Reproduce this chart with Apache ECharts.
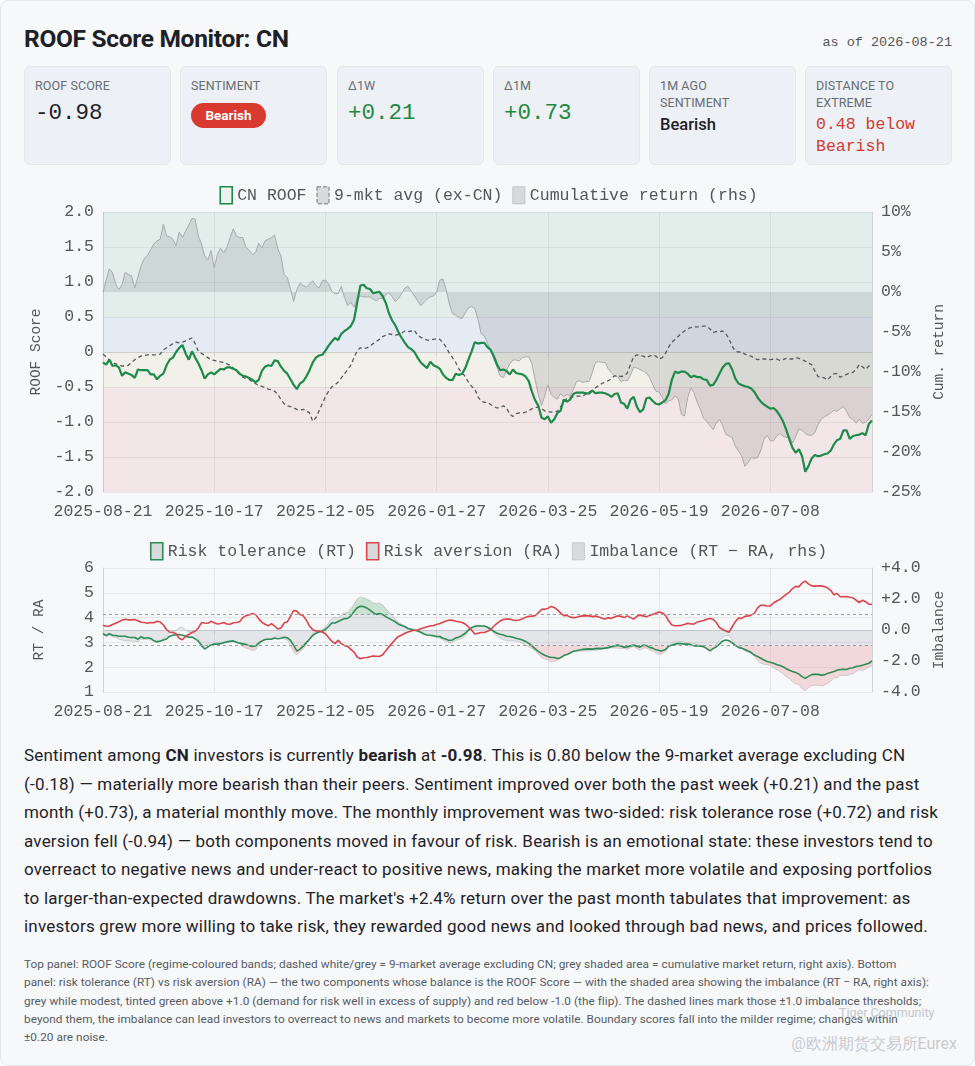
<!DOCTYPE html>
<html><head><meta charset="utf-8">
<script src="https://cdn.jsdelivr.net/npm/echarts@6/dist/echarts.min.js"></script>
<style>
html,body{margin:0;padding:0;background:#fff;}
#page{position:relative;width:973px;height:1064px;background:#f7f8fa;border:1px solid #e3e6ea;border-radius:8px;overflow:hidden;font-family:Roboto,"Noto Sans",sans-serif;color:#1f2328;}
.title{position:absolute;left:23px;top:23px;font-size:24.5px;font-weight:700;letter-spacing:-0.3px;color:#1d2126;line-height:30px;}
.asof{position:absolute;right:22px;top:34px;font-family:"Liberation Mono",monospace;font-size:13.5px;color:#555;}
.card{position:absolute;top:65px;width:147px;height:99px;background:#edf0f4;border-radius:6px;border:1px solid #e4e7eb;box-sizing:border-box;}
.lab{position:absolute;left:10px;top:10px;font-size:12.5px;color:#666d75;line-height:17px;letter-spacing:0.1px;}
.val{position:absolute;left:10px;top:33px;font-family:"Liberation Mono",monospace;font-size:22.5px;line-height:26px;color:#1d2126;}
.green{color:#1b8a3f;}
.badge{position:absolute;left:10px;top:36px;width:75px;height:25px;border-radius:13px;background:#d93a2f;color:#fff;font-weight:700;font-size:13.5px;line-height:25px;text-align:center;}
.sval{position:absolute;left:10px;top:47px;font-size:16.5px;line-height:22px;color:#1d2126;font-weight:500;}
.rval{position:absolute;left:10px;top:47px;font-family:"Liberation Mono",monospace;font-size:16.5px;line-height:22px;color:#d23a32;}
#chart{position:absolute;left:0;top:180px;width:975px;height:545px;}
.para{position:absolute;left:23px;top:740px;font-size:17px;line-height:28.5px;letter-spacing:0.2px;color:#1f2328;white-space:nowrap;}
.foot{position:absolute;left:23px;top:954px;font-size:11.8px;line-height:18.35px;letter-spacing:0.04px;color:#555b62;white-space:nowrap;}
.wm1{position:absolute;left:838px;top:1004px;font-size:12.5px;color:#c4c7cb;}
.wm2{position:absolute;right:17px;top:1033px;font-size:16px;color:#c9cbce;}
</style></head>
<body>
<div id="page">
  <div class="title">ROOF Score Monitor: CN</div>
  <div class="asof">as of 2026-08-21</div>

  <div class="card" style="left:23px"><div class="lab">ROOF SCORE</div><div class="val">-0.98</div></div>
  <div class="card" style="left:179px"><div class="lab">SENTIMENT</div><div class="badge">Bearish</div></div>
  <div class="card" style="left:336px"><div class="lab">Δ1W</div><div class="val green">+0.21</div></div>
  <div class="card" style="left:492px"><div class="lab">Δ1M</div><div class="val green">+0.73</div></div>
  <div class="card" style="left:648px"><div class="lab">1M AGO<br>SENTIMENT</div><div class="sval">Bearish</div></div>
  <div class="card" style="left:804px"><div class="lab">DISTANCE TO<br>EXTREME</div><div class="rval">0.48 below<br>Bearish</div></div>

  <div id="chart"></div>

  <div class="para">Sentiment among <b>CN</b> investors is currently <b>bearish</b> at <b>-0.98</b>. This is 0.80 below the 9-market average excluding CN<br>(-0.18) — materially more bearish than their peers. Sentiment improved over both the past week (+0.21) and the past<br>month (+0.73), a material monthly move. The monthly improvement was two-sided: risk tolerance rose (+0.72) and risk<br>aversion fell (-0.94) — both components moved in favour of risk. Bearish is an emotional state: these investors tend to<br>overreact to negative news and under-react to positive news, making the market more volatile and exposing portfolios<br>to larger-than-expected drawdowns. The market's +2.4% return over the past month tabulates that improvement: as<br>investors grew more willing to take risk, they rewarded good news and looked through bad news, and prices followed.</div>

  <div class="foot">Top panel: ROOF Score (regime-coloured bands; dashed white/grey = 9-market average excluding CN; grey shaded area = cumulative market return, right axis). Bottom<br>panel: risk tolerance (RT) vs risk aversion (RA) — the two components whose balance is the ROOF Score — with the shaded area showing the imbalance (RT − RA, right axis):<br>grey while modest, tinted green above +1.0 (demand for risk well in excess of supply) and red below -1.0 (the flip). The dashed lines mark those ±1.0 imbalance thresholds;<br>beyond them, the imbalance can lead investors to overreact to news and markets to become more volatile. Boundary scores fall into the milder regime; changes within<br>±0.20 are noise.</div>
  <div class="wm1">Tiger Community</div>
  <div class="wm2">@欧洲期货交易所Eurex</div>
</div>
<script>
// ---------- data ----------
const START_DATE = '2025-08-21';
const END_DATE = '2026-08-21';
const HOLIDAYS = ['2025-10-01','2025-10-02','2025-10-03','2025-10-06','2025-10-07','2025-10-08',
  '2026-01-01','2026-01-02','2026-02-16','2026-02-17','2026-02-18','2026-02-19','2026-02-20','2026-02-23',
  '2026-04-06','2026-05-01','2026-05-04','2026-05-05','2026-06-19'];
const TICK_DATES = ['2025-08-21','2025-10-17','2025-12-05','2026-01-27','2026-03-25','2026-05-19','2026-07-08'];

const ROOF = [
-0.15,-0.18,-0.11,-0.20,-0.19,-0.22,-0.34,-0.29,-0.31,-0.33,
-0.37,-0.25,-0.26,-0.26,-0.26,-0.32,-0.32,-0.39,-0.34,-0.31,
-0.19,-0.11,-0.08,0.00,0.06,0.10,-0.02,-0.11,0.01,-0.08,
-0.16,-0.26,-0.38,-0.32,-0.29,-0.32,-0.28,-0.24,-0.25,-0.22,
-0.22,-0.24,-0.26,-0.31,-0.34,-0.35,-0.37,-0.40,-0.43,-0.40,
-0.27,-0.21,-0.19,-0.20,-0.12,-0.13,-0.21,-0.27,-0.31,-0.39,
-0.47,-0.53,-0.45,-0.42,-0.35,-0.26,-0.15,-0.08,-0.05,-0.04,
0.02,0.09,0.15,0.20,0.17,0.26,0.30,0.33,0.37,0.46,
0.71,0.95,0.96,0.91,0.90,0.84,0.85,0.86,0.80,0.70,
0.55,0.45,0.38,0.28,0.20,0.13,0.07,0.04,0.00,-0.08,
-0.15,-0.19,-0.23,-0.14,-0.19,-0.21,-0.24,-0.32,-0.37,-0.40,
-0.40,-0.31,-0.33,-0.31,-0.23,-0.11,0.01,0.14,0.12,0.13,
0.13,0.07,0.03,-0.06,-0.18,-0.26,-0.25,-0.27,-0.32,-0.25,
-0.30,-0.31,-0.32,-0.35,-0.42,-0.57,-0.69,-0.77,-0.94,-0.96,
-0.92,-1.01,-0.96,-0.87,-0.84,-0.68,-0.71,-0.68,-0.60,-0.58,
-0.58,-0.58,-0.59,-0.59,-0.55,-0.59,-0.58,-0.58,-0.59,-0.61,
-0.64,-0.60,-0.59,-0.72,-0.74,-0.81,-0.68,-0.64,-0.78,-0.86,
-0.82,-0.66,-0.65,-0.70,-0.74,-0.75,-0.72,-0.69,-0.60,-0.40,
-0.28,-0.30,-0.28,-0.28,-0.31,-0.36,-0.34,-0.36,-0.36,-0.39,
-0.40,-0.48,-0.47,-0.40,-0.31,-0.22,-0.17,-0.16,-0.25,-0.38,
-0.45,-0.47,-0.49,-0.50,-0.52,-0.57,-0.65,-0.71,-0.75,-0.78,
-0.81,-0.80,-0.84,-0.91,-0.99,-1.11,-1.25,-1.37,-1.44,-1.39,
-1.49,-1.71,-1.63,-1.52,-1.47,-1.49,-1.48,-1.46,-1.45,-1.41,
-1.32,-1.26,-1.24,-1.12,-1.12,-1.24,-1.20,-1.19,-1.18,-1.16,
-1.19,-1.03,-0.98];

const AVG9 = [
-0.03,-0.07,-0.11,-0.15,-0.17,-0.19,-0.20,-0.20,-0.19,-0.15,
-0.11,-0.08,-0.06,-0.05,-0.04,-0.04,-0.04,-0.04,-0.03,0.03,
0.06,0.09,0.12,0.14,0.13,0.14,0.16,0.18,0.20,0.12,
0.01,-0.02,-0.05,-0.08,-0.11,-0.12,-0.13,-0.14,-0.15,-0.17,
-0.19,-0.23,-0.27,-0.32,-0.36,-0.38,-0.39,-0.43,-0.45,-0.48,
-0.49,-0.51,-0.53,-0.54,-0.56,-0.60,-0.68,-0.74,-0.77,-0.78,
-0.80,-0.82,-0.83,-0.82,-0.84,-0.87,-0.99,-0.94,-0.84,-0.74,
-0.64,-0.56,-0.50,-0.47,-0.43,-0.37,-0.31,-0.25,-0.19,-0.08,
0.02,0.06,0.05,0.06,0.08,0.12,0.15,0.18,0.22,0.24,
0.26,0.25,0.24,0.25,0.27,0.30,0.29,0.30,0.31,0.24,
0.21,0.19,0.17,0.17,0.18,0.19,0.18,0.13,0.07,-0.02,
-0.08,-0.15,-0.24,-0.30,-0.35,-0.43,-0.49,-0.53,-0.64,-0.70,
-0.72,-0.72,-0.75,-0.78,-0.80,-0.79,-0.77,-0.80,-0.89,-0.92,
-0.88,-0.87,-0.87,-0.86,-0.84,-0.81,-0.79,-0.79,-0.81,-0.84,
-0.85,-0.86,-0.85,-0.85,-0.78,-0.72,-0.66,-0.65,-0.64,-0.63,
-0.63,-0.63,-0.60,-0.57,-0.55,-0.51,-0.48,-0.45,-0.43,-0.41,
-0.38,-0.34,-0.34,-0.35,-0.34,-0.30,-0.18,-0.07,-0.04,-0.05,
-0.06,-0.08,-0.06,-0.04,-0.06,-0.10,-0.08,-0.02,0.07,0.14,
0.18,0.22,0.27,0.30,0.33,0.35,0.36,0.36,0.36,0.37,
0.37,0.33,0.28,0.29,0.29,0.30,0.26,0.19,0.08,0.01,
0.00,0.00,-0.03,-0.05,-0.06,-0.09,-0.11,-0.10,-0.10,-0.10,
-0.11,-0.10,-0.10,-0.12,-0.11,-0.09,-0.10,-0.10,-0.08,-0.09,
-0.11,-0.13,-0.16,-0.18,-0.27,-0.35,-0.36,-0.37,-0.40,-0.35,
-0.31,-0.31,-0.36,-0.34,-0.32,-0.30,-0.29,-0.25,-0.18,-0.21,
-0.25,-0.20,-0.18];

const CUM_RETURN = [
0.0,1.5,2.9,2.4,1.0,0.3,0.9,2.5,2.2,2.0,
0.5,1.9,3.3,4.2,4.6,5.3,6.0,6.4,6.6,8.5,
7.0,6.9,6.6,5.8,7.5,6.8,7.6,8.4,9.2,9.1,
7.0,6.0,4.5,4.0,5.2,3.0,4.7,5.5,4.9,5.6,
6.8,7.9,7.0,6.8,6.8,5.6,5.2,4.7,4.9,6.1,
5.5,6.4,6.6,6.8,7.1,5.4,4.5,2.2,1.8,0.4,
-1.2,0.3,1.1,0.8,0.6,1.0,1.4,0.8,0.5,1.4,
1.5,1.0,0.1,-0.2,-0.2,0.7,-0.7,-1.7,-1.3,-1.9,
-0.9,-0.5,-0.6,-0.6,-0.6,-0.9,-1.1,-0.8,-0.8,-0.3,
-0.1,-0.6,-1.2,-0.8,-0.2,0.5,0.7,0.1,-0.5,-1.1,
-1.7,-1.3,-0.9,-0.6,-0.5,0.0,1.5,1.6,0.3,-1.5,
-2.7,-2.9,-3.2,-3.3,-2.6,-2.0,-1.8,-2.1,-3.4,-5.2,
-5.5,-6.4,-7.3,-8.4,-9.4,-10.5,-10.7,-9.8,-9.0,-8.5,
-8.5,-8.6,-8.2,-8.1,-8.1,-9.0,-11.0,-12.8,-14.2,-13.0,
-11.6,-12.8,-13.2,-13.4,-12.7,-13.1,-12.8,-13.0,-12.2,-11.2,
-11.1,-11.3,-11.2,-11.2,-10.0,-8.8,-8.7,-8.8,-8.8,-9.6,
-10.1,-10.5,-10.6,-11.2,-11.0,-11.1,-10.4,-9.4,-9.5,-9.7,
-9.9,-10.1,-10.7,-11.6,-12.4,-12.5,-13.2,-14.0,-13.6,-13.5,
-13.0,-13.3,-15.3,-15.5,-13.2,-12.0,-12.6,-13.8,-14.7,-15.8,
-16.2,-16.7,-17.2,-16.4,-15.9,-16.7,-17.8,-18.0,-18.2,-19.3,
-19.9,-20.5,-21.8,-21.3,-20.7,-20.8,-20.7,-19.8,-18.4,-17.9,
-18.6,-18.6,-18.0,-17.7,-18.0,-18.2,-18.0,-18.9,-18.1,-17.1,
-17.3,-17.7,-17.9,-17.9,-17.6,-16.6,-15.9,-15.6,-15.4,-15.1,
-14.8,-14.9,-14.6,-14.3,-14.9,-15.7,-15.9,-16.4,-15.9,-16.4,
-16.3,-15.9,-15.3];

const RISK_TOL = [
3.36,3.27,3.35,3.29,3.28,3.25,3.25,3.25,3.21,3.20,
3.20,3.13,3.23,3.17,3.19,3.16,3.07,3.03,3.06,3.10,
3.14,3.25,3.29,3.31,3.32,3.29,3.25,3.21,3.22,3.15,
3.05,2.88,2.73,2.82,2.89,2.93,2.93,2.95,2.99,3.02,
3.04,3.06,3.01,2.97,2.94,2.92,2.87,2.84,2.86,2.97,
3.06,3.12,3.13,3.13,3.18,3.15,3.17,3.21,3.19,3.08,
2.88,2.65,2.73,2.85,2.99,3.13,3.28,3.37,3.42,3.45,
3.52,3.64,3.78,3.78,3.84,3.90,3.96,3.97,4.07,4.25,
4.40,4.46,4.45,4.39,4.30,4.20,4.13,4.16,4.12,4.04,
3.97,3.90,3.83,3.73,3.68,3.63,3.56,3.53,3.49,3.46,
3.41,3.34,3.30,3.29,3.27,3.24,3.24,3.17,3.13,3.08,
3.10,3.18,3.22,3.28,3.37,3.50,3.60,3.64,3.67,3.66,
3.66,3.61,3.54,3.44,3.37,3.33,3.30,3.25,3.24,3.21,
3.17,3.14,3.10,3.04,2.96,2.86,2.74,2.64,2.55,2.48,
2.43,2.39,2.39,2.35,2.38,2.47,2.51,2.57,2.64,2.66,
2.69,2.72,2.73,2.74,2.73,2.75,2.76,2.75,2.77,2.79,
2.83,2.86,2.89,2.85,2.81,2.82,2.86,2.89,2.85,2.81,
2.89,2.87,2.80,2.77,2.70,2.67,2.66,2.71,2.84,2.89,
2.93,2.96,2.95,2.93,2.93,2.91,2.86,2.87,2.85,2.83,
2.75,2.66,2.75,2.82,2.93,3.06,3.10,3.07,2.98,2.88,
2.80,2.77,2.71,2.65,2.59,2.49,2.43,2.36,2.29,2.23,
2.20,2.16,2.11,2.07,2.02,1.94,1.88,1.83,1.79,1.72,
1.62,1.55,1.63,1.70,1.71,1.71,1.68,1.69,1.75,1.79,
1.83,1.88,1.91,1.92,1.91,1.96,1.98,2.03,2.05,2.08,
2.12,2.16,2.25];

const RISK_AVER = [
3.69,3.65,3.66,3.72,3.77,3.83,3.90,3.93,3.91,3.91,
3.92,3.87,3.81,3.80,3.77,3.80,3.79,3.85,3.82,3.70,
3.52,3.41,3.40,3.35,3.17,3.11,3.25,3.32,3.40,3.45,
3.58,3.80,3.78,3.77,3.85,3.79,3.74,3.76,3.80,3.74,
3.73,3.79,3.80,3.83,4.00,4.08,4.11,4.17,4.12,3.95,
3.81,3.73,3.67,3.76,3.66,3.54,3.58,3.78,3.83,4.05,
4.29,4.26,4.12,4.07,3.90,3.66,3.51,3.46,3.46,3.42,
3.35,3.20,3.05,2.95,3.08,2.95,2.87,2.84,2.72,2.61,
2.41,2.34,2.38,2.39,2.42,2.45,2.44,2.43,2.50,2.66,
2.82,2.97,3.12,3.24,3.30,3.37,3.42,3.46,3.49,3.50,
3.55,3.59,3.63,3.66,3.68,3.72,3.76,3.81,3.86,3.90,
3.89,3.85,3.83,3.80,3.74,3.62,3.50,3.34,3.37,3.40,
3.40,3.45,3.52,3.65,3.77,3.86,3.92,3.94,3.94,3.90,
3.88,3.90,3.95,4.01,4.05,4.06,4.08,4.19,4.33,4.34,
4.37,4.45,4.41,4.31,4.19,4.08,4.09,4.02,4.00,4.01,
4.05,4.07,4.08,4.07,4.04,4.06,4.03,3.97,3.94,3.99,
3.97,4.02,4.07,4.05,4.00,4.07,4.00,3.94,4.05,4.10,
4.07,4.03,4.09,4.13,4.18,4.23,4.19,4.09,3.87,3.70,
3.67,3.67,3.69,3.72,3.77,3.74,3.74,3.82,3.85,3.88,
3.93,3.96,3.93,3.80,3.60,3.52,3.46,3.41,3.63,3.84,
3.98,3.97,4.05,4.07,4.10,4.17,4.39,4.50,4.50,4.47,
4.47,4.59,4.67,4.73,4.84,4.94,5.03,5.17,5.26,5.24,
5.40,5.47,5.36,5.28,5.27,5.28,5.28,5.25,5.20,5.10,
4.92,4.97,4.84,4.84,4.85,4.82,4.80,4.70,4.61,4.70,
4.64,4.54,4.54];

const BANDS = [
  {from: 2.0, to: 0.5, color: 'rgba(60,150,95,0.10)'},
  {from: 0.5, to: 0.0, color: 'rgba(60,110,190,0.09)'},
  {from: 0.0, to: -0.5, color: 'rgba(200,180,90,0.10)'},
  {from: -0.5, to: -2.0, color: 'rgba(215,80,80,0.10)'}
];
const IMB_THRESHOLD = 1.0;

// ---------- calendar (trading days) ----------
function tradingDays(s, e, hol) {
  const out = [];
  const d = new Date(s + 'T00:00:00Z');
  const end = new Date(e + 'T00:00:00Z');
  while (d <= end) {
    const wd = d.getUTCDay();
    const iso = d.toISOString().slice(0, 10);
    if (wd !== 0 && wd !== 6 && hol.indexOf(iso) < 0) out.push(iso);
    d.setUTCDate(d.getUTCDate() + 1);
  }
  return out;
}
const DATES = tradingDays(START_DATE, END_DATE, HOLIDAYS);
const IMB = RISK_TOL.map((v, i) => +(v - RISK_AVER[i]).toFixed(2));
const IMB_GREY = IMB.map(v => Math.max(-IMB_THRESHOLD, Math.min(IMB_THRESHOLD, v)));
const IMB_POS = IMB.map(v => Math.max(IMB_THRESHOLD, v));
const IMB_NEG = IMB.map(v => Math.min(-IMB_THRESHOLD, v));

// ---------- chart ----------
const MONO = '"Liberation Mono", "DejaVu Sans Mono", monospace';
const AX = '#cfd3d8';
const GRIDC = 'rgba(0,0,0,0.065)';
const showTick = (i, v) => TICK_DATES.indexOf(v) >= 0;
const lab = {color: '#555', fontFamily: MONO, fontSize: 16.5};

function xAx(g) {
  return {type: 'category', gridIndex: g, data: DATES, boundaryGap: false,
    axisLine: {lineStyle: {color: AX}},
    axisTick: {show: true, interval: showTick, length: 4, lineStyle: {color: AX}},
    axisLabel: Object.assign({interval: showTick, margin: 11}, lab),
    splitLine: {show: true, interval: showTick, lineStyle: {color: GRIDC}}};
}
function yName(n, gap) {
  return {name: n, nameLocation: 'middle', nameGap: gap,
    nameTextStyle: {fontFamily: MONO, fontSize: 14.5, color: '#555'}};
}

const chart = echarts.init(document.getElementById('chart'));
chart.setOption({
  animation: false,
  textStyle: {fontFamily: MONO},
  grid: [
    {left: 102, right: 104, top: 31, height: 280, outerBoundsMode: 'none'},
    {left: 102, right: 104, top: 387, height: 124, outerBoundsMode: 'none'}
  ],
  legend: [
    {top: 0, left: 'center', itemWidth: 12, itemHeight: 17, itemGap: 10,
      textStyle: {fontFamily: MONO, fontSize: 16.5, color: '#555'},
      data: [
        {name: 'CN ROOF', icon: 'rect', itemStyle: {color: '#eef1ee', borderColor: '#1e8a4a', borderWidth: 1.6}},
        {name: '9-mkt avg (ex-CN)', icon: 'rect', itemStyle: {color: '#d9dadc', borderColor: '#777', borderWidth: 1, borderType: 'dashed'}},
        {name: 'Cumulative return (rhs)', icon: 'rect', itemStyle: {color: '#d6d8db', borderColor: '#c2c5c8', borderWidth: 1}}
      ]},
    {top: 356, left: 'center', itemWidth: 12, itemHeight: 17, itemGap: 10,
      textStyle: {fontFamily: MONO, fontSize: 16.5, color: '#555'},
      data: [
        {name: 'Risk tolerance (RT)', icon: 'rect', itemStyle: {color: '#d9dadc', borderColor: '#2e8b57', borderWidth: 1.6}},
        {name: 'Risk aversion (RA)', icon: 'rect', itemStyle: {color: '#d9dadc', borderColor: '#d9454a', borderWidth: 1.6}},
        {name: 'Imbalance (RT − RA, rhs)', icon: 'rect', itemStyle: {color: '#d9dadc', borderColor: '#c8cacd', borderWidth: 1}}
      ]}
  ],
  xAxis: [xAx(0), xAx(1)],
  yAxis: [
    Object.assign({type: 'value', gridIndex: 0, position: 'left', min: -2, max: 2, interval: 0.5,
      axisLine: {show: true, lineStyle: {color: AX}}, axisTick: {show: false},
      axisLabel: Object.assign({margin: 9, formatter: v => v === 0 ? '0' : v.toFixed(1)}, lab),
      splitLine: {lineStyle: {color: GRIDC}}}, yName('ROOF Score', 56)),
    Object.assign({type: 'value', gridIndex: 0, position: 'right', min: -25, max: 10, interval: 5,
      axisLine: {show: true, lineStyle: {color: AX}}, axisTick: {show: false},
      axisLabel: Object.assign({margin: 9, formatter: v => v + '%'}, lab),
      splitLine: {show: false}}, yName('Cum. return', 58)),
    Object.assign({type: 'value', gridIndex: 1, position: 'left', min: 1, max: 6, interval: 1,
      axisLine: {show: true, lineStyle: {color: AX}}, axisTick: {show: false},
      axisLabel: Object.assign({margin: 9}, lab),
      splitLine: {lineStyle: {color: GRIDC}}}, yName('RT / RA', 56)),
    Object.assign({type: 'value', gridIndex: 1, position: 'right', min: -4, max: 4, interval: 2,
      axisLine: {show: true, lineStyle: {color: AX}}, axisTick: {show: false},
      axisLabel: Object.assign({margin: 9, formatter: v => v > 0 ? '+' + v.toFixed(1) : v.toFixed(1)}, lab),
      splitLine: {show: false}}, yName('Imbalance', 58))
  ],
  series: [
    {name: 'bands', type: 'line', xAxisIndex: 0, yAxisIndex: 0, data: DATES.map(() => null),
      silent: true, z: 0, symbol: 'none',
      markArea: {silent: true, data: BANDS.map(b => [{yAxis: b.from, itemStyle: {color: b.color}}, {yAxis: b.to}])}},
    {name: 'Cumulative return (rhs)', type: 'line', xAxisIndex: 0, yAxisIndex: 1, data: CUM_RETURN,
      symbol: 'none', z: 1, lineStyle: {color: '#a6a9ad', width: 1},
      areaStyle: {color: 'rgba(100,106,112,0.25)', origin: 0}},
    {name: '9-mkt avg (ex-CN)', type: 'line', xAxisIndex: 0, yAxisIndex: 0, data: AVG9,
      symbol: 'none', z: 3, lineStyle: {color: '#555a5f', width: 1.3, type: [4, 3]}},
    {name: 'CN ROOF', type: 'line', xAxisIndex: 0, yAxisIndex: 0, data: ROOF,
      symbol: 'none', z: 4, lineStyle: {color: '#1e8a4a', width: 2.2}},

    {name: 'Imbalance (RT − RA, rhs)', type: 'line', xAxisIndex: 1, yAxisIndex: 3, data: IMB_GREY,
      symbol: 'none', z: 1, lineStyle: {opacity: 0},
      areaStyle: {color: 'rgba(120,125,135,0.22)', origin: 0},
      markLine: {silent: true, symbol: 'none', label: {show: false},
        lineStyle: {color: '#9a9ea3', width: 1, type: [3, 3]},
        data: [{yAxis: IMB_THRESHOLD}, {yAxis: -IMB_THRESHOLD}]}},
    {name: 'imb+', type: 'line', xAxisIndex: 1, yAxisIndex: 3, data: IMB_POS,
      symbol: 'none', z: 1, lineStyle: {opacity: 0},
      areaStyle: {color: 'rgba(60,160,90,0.35)', origin: IMB_THRESHOLD}},
    {name: 'imb-', type: 'line', xAxisIndex: 1, yAxisIndex: 3, data: IMB_NEG,
      symbol: 'none', z: 1, lineStyle: {opacity: 0},
      areaStyle: {color: 'rgba(225,100,100,0.30)', origin: -IMB_THRESHOLD}},
    {name: 'imb edge', type: 'line', xAxisIndex: 1, yAxisIndex: 3, data: IMB,
      symbol: 'none', z: 2, lineStyle: {color: 'rgba(140,140,140,0.45)', width: 0.8}},
    {name: 'Risk tolerance (RT)', type: 'line', xAxisIndex: 1, yAxisIndex: 2, data: RISK_TOL,
      symbol: 'none', z: 4, lineStyle: {color: '#2e8b57', width: 1.6}},
    {name: 'Risk aversion (RA)', type: 'line', xAxisIndex: 1, yAxisIndex: 2, data: RISK_AVER,
      symbol: 'none', z: 4, lineStyle: {color: '#d9454a', width: 1.6}}
  ]
});
</script>
</body></html>
